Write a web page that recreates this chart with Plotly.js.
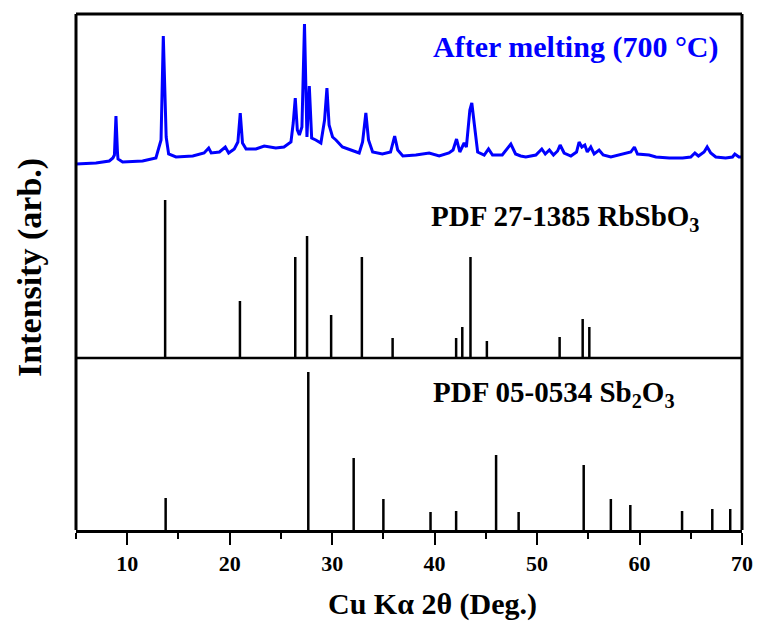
<!DOCTYPE html>
<html>
<head>
<meta charset="utf-8">
<script src="https://cdn.plot.ly/plotly-3.0.1.min.js"></script>
<style>html,body{margin:0;padding:0;background:#fff;}#chart{width:761px;height:630px;}</style>
</head>
<body>
<div id="chart"></div>
<script>
// Measured pattern after melting (arb. intensity)
const meltTwoTheta = [5.0, 6.95, 8.25, 8.6, 8.75, 8.9, 9.05, 9.1, 9.55, 11.5, 12.8, 13.3, 13.52, 13.65, 13.8, 14.04, 14.76, 16.4, 17.5, 17.95, 18.2, 19.0, 19.57, 19.9, 20.45, 20.8, 21.03, 21.25, 21.6, 22.56, 23.37, 24.5, 25.3, 25.98, 26.2, 26.4, 26.6, 26.8, 27.05, 27.3, 27.54, 27.77, 28.0, 28.4, 28.9, 29.26, 29.49, 29.7, 30.04, 30.37, 31.0, 31.83, 32.64, 32.97, 33.29, 33.55, 33.95, 34.9, 35.7, 36.1, 36.4, 36.9, 38.17, 39.47, 40.45, 41.4, 41.8, 42.14, 42.46, 42.88, 43.1, 43.44, 43.63, 43.86, 44.2, 44.84, 45.26, 45.65, 46.6, 47.44, 47.9, 48.4, 48.9, 49.88, 50.46, 50.8, 51.2, 51.6, 52.0, 52.25, 52.64, 53.3, 53.85, 54.1, 54.37, 54.66, 54.9, 55.24, 55.57, 56.05, 56.45, 57.2, 58.34, 59.15, 59.5, 59.8, 60.93, 61.6, 62.9, 64.2, 65.0, 65.4, 65.75, 66.3, 66.6, 66.95, 67.44, 68.4, 69.07, 69.3, 69.7, 70.0];
const meltIntensity = [194, 195, 197, 200, 203, 242, 205, 199, 196, 197, 200, 218, 322, 278, 221, 204, 201, 202, 205, 210, 205, 206, 211, 205, 209, 216, 245, 215, 209, 209, 212, 210, 211, 216, 235, 260, 228, 223, 231, 334, 221, 272, 220, 218, 215, 238, 270, 233, 221, 218, 211, 208, 205, 216, 245, 218, 206, 204, 206, 222, 208, 202, 203, 205, 202, 205, 208, 219, 206, 215, 211, 248, 255, 235, 206, 203, 209, 203, 203, 214, 204, 202, 201, 203, 209, 204, 208, 203, 207, 213, 205, 202, 206, 216, 211, 213, 206, 211, 204, 208, 203, 201, 204, 206, 211, 204, 203, 201, 200, 200, 201, 205, 202, 206, 211, 205, 201, 200, 201, 204, 201, 201];

// PDF 27-1385 RbSbO3 reference lines
const rbPos = [13.7, 21.0, 26.4, 27.55, 29.9, 32.9, 35.9, 42.1, 42.7, 43.5, 45.1, 52.2, 54.45, 55.1];
const rbInt = [158, 57, 101, 122, 43, 101, 20, 20, 31, 101, 17, 21, 39, 31];

// PDF 05-0534 Sb2O3 reference lines
const sbPos = [13.75, 27.67, 32.1, 35.0, 39.6, 42.1, 46.0, 48.2, 54.55, 57.2, 59.1, 64.15, 67.1, 68.85];
const sbInt = [32, 158, 72, 31, 18, 19, 75, 18, 65, 31, 25, 19, 21, 21];

const xTicks = [10, 20, 30, 40, 50, 60, 70];

function sticks(pos, h) {
  const x = [], y = [];
  pos.forEach((p, i) => { x.push(p, p, null); y.push(0, h[i], null); });
  return {x, y};
}
const rb = sticks(rbPos, rbInt);
const sb = sticks(sbPos, sbInt);
const serif = '"Liberation Serif", "Times New Roman", Times, serif';

const traces = [
  {x: meltTwoTheta, y: meltIntensity, xaxis: 'x', yaxis: 'y2', type: 'scatter', mode: 'lines', line: {color: '#0000ff', width: 3}, hoverinfo: 'skip'},
  {x: rb.x, y: rb.y, xaxis: 'x', yaxis: 'y2', type: 'scatter', mode: 'lines', line: {color: '#000', width: 2.5}, hoverinfo: 'skip'},
  {x: sb.x, y: sb.y, xaxis: 'x', yaxis: 'y', type: 'scatter', mode: 'lines', line: {color: '#000', width: 2.5}, hoverinfo: 'skip'}
];

const frame = {color: '#000', width: 3};
const layout = {
  width: 761, height: 630,
  margin: {l: 76, r: 19, t: 14, b: 100},
  paper_bgcolor: '#fff', plot_bgcolor: '#fff',
  showlegend: false,
  font: {family: serif, color: '#000'},
  xaxis: {
    range: [5, 70], tickvals: xTicks, ticktext: xTicks.map(String),
    ticks: 'outside', ticklen: 12, tickwidth: 2, tickcolor: '#000',
    showline: true, linecolor: '#000', linewidth: 2.5, showgrid: false, zeroline: false,
    minor: {dtick: 5, tick0: 5, ticks: 'outside', ticklen: 6, tickwidth: 2, tickcolor: '#000', showgrid: false},
    tickfont: {family: serif, size: 22, color: '#000', weight: 'bold'}, anchor: 'y'
  },
  yaxis: {domain: [0, 1/3], range: [0, 172], showticklabels: false, ticks: '', showgrid: false, zeroline: false},
  yaxis2: {domain: [1/3, 1], range: [0, 344], showticklabels: false, ticks: '', showgrid: false, zeroline: false, anchor: 'x'},
  shapes: [
    {type: 'line', xref: 'paper', yref: 'paper', x0: 0, x1: 1, y0: 1, y1: 1, line: frame},
    {type: 'line', xref: 'paper', yref: 'paper', x0: 1, x1: 1, y0: 0, y1: 1, line: frame},
    {type: 'line', xref: 'paper', yref: 'paper', x0: 0, x1: 0, y0: 0, y1: 1, line: frame},
    {type: 'line', xref: 'paper', yref: 'paper', x0: 0, x1: 1, y0: 1/3, y1: 1/3, line: {color: '#000', width: 2.5}}
  ],
  annotations: [
    {text: '<b>After melting (700 °C)</b>', xref: 'x', yref: 'paper', x: 39.6, y: 0.936, xanchor: 'left', yanchor: 'middle', showarrow: false, font: {family: serif, size: 30, color: '#0000ff'}},
    {text: '<b>PDF 27-1385 RbSbO<sub>3</sub></b>', xref: 'x', yref: 'paper', x: 39.5, y: 0.605, xanchor: 'left', yanchor: 'middle', showarrow: false, font: {family: serif, size: 29, color: '#000'}},
    {text: '<b>PDF 05-0534 Sb<sub>2</sub>O<sub>3</sub></b>', xref: 'x', yref: 'paper', x: 39.6, y: 0.263, xanchor: 'left', yanchor: 'middle', showarrow: false, font: {family: serif, size: 29, color: '#000'}},
    {text: '<b>Intensity (arb.)</b>', xref: 'paper', yref: 'paper', x: -0.069, y: 0.508, xanchor: 'center', yanchor: 'middle', textangle: -90, showarrow: false, font: {family: serif, size: 34, color: '#000'}},
    {text: '<b>Cu Kα 2θ (Deg.)</b>', xref: 'paper', yref: 'paper', x: 0.535, y: -0.143, xanchor: 'center', yanchor: 'middle', showarrow: false, font: {family: serif, size: 30, color: '#000'}}
  ]
};
Plotly.newPlot('chart', traces, layout, {staticPlot: true, displayModeBar: false});
</script>
</body>
</html>
